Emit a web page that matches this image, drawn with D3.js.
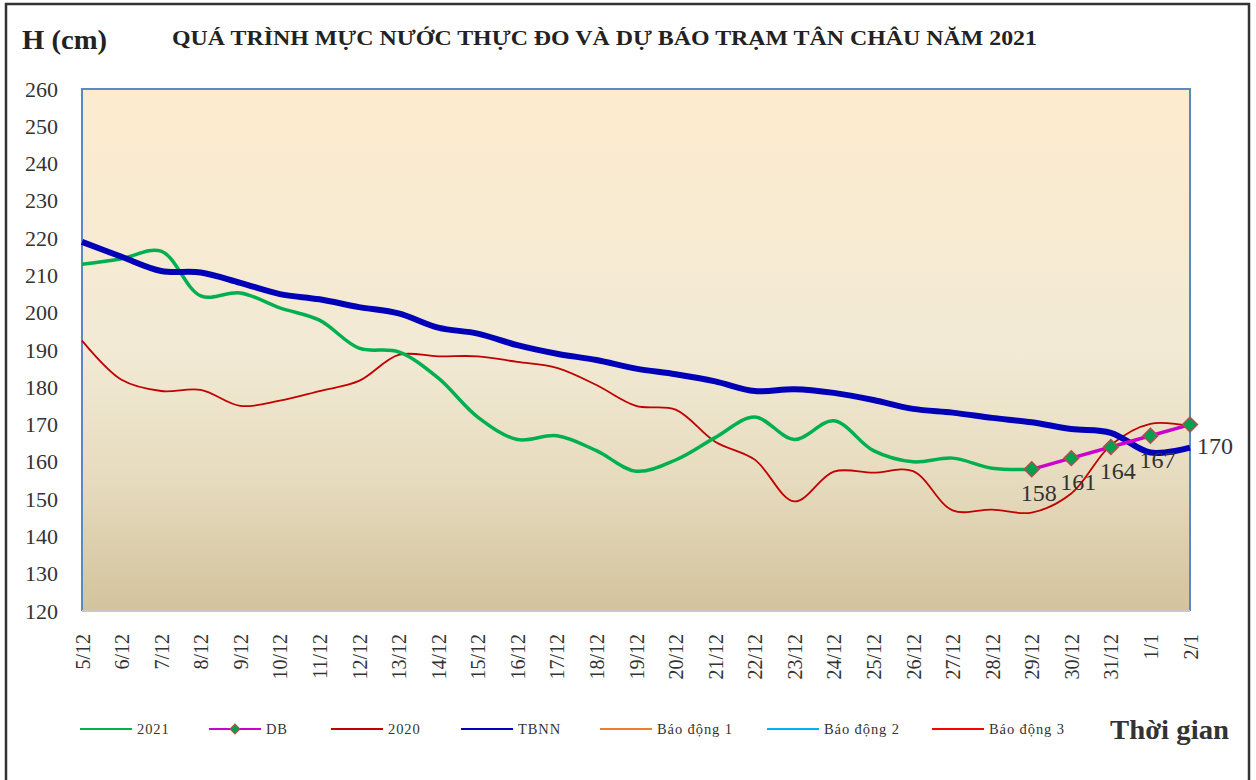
<!DOCTYPE html>
<html>
<head>
<meta charset="utf-8">
<script src="https://cdn.jsdelivr.net/npm/d3@7"></script>
<style>
  body { margin: 0; background: #fff; }
  svg text { font-family: "Liberation Serif", "Times New Roman", serif; }
</style>
</head>
<body>
<div id="chart"></div>
<script>
// ngay quan trac
var days = ["5/12","6/12","7/12","8/12","9/12","10/12","11/12","12/12","13/12","14/12",
  "15/12","16/12","17/12","18/12","19/12","20/12","21/12","22/12","23/12","24/12",
  "25/12","26/12","27/12","28/12","29/12","30/12","31/12","1/1","2/1"];

// muc nuoc thuc do 2021 (den 29/12)
var h2021 = [213, 214.5, 216.5, 204.5, 205.3, 201.3, 198, 190.5, 189.5, 182.5, 172, 166,
  167, 163, 157.5, 160.5, 166.5, 172, 166, 171, 163, 160, 161, 158.3, 158];
// cung ky 2020
var h2020 = [192.5, 182, 179, 179.3, 175, 176.4, 179, 181.7, 188.7, 188.3, 188.3, 186.8,
  185.2, 180.6, 175, 174, 165.4, 160.6, 149.4, 157.4, 157.1, 157.5, 147, 147.2, 146.4,
  151.5, 164.5, 170.2, 169.6];
// trung binh nhieu nam
var tbnn = [219, 215, 211.2, 210.8, 208, 205, 203.6, 201.5, 199.8, 196, 194.4, 191.3,
  189, 187.3, 185, 183.5, 181.6, 179, 179.5, 178.5, 176.6, 174.2, 173.2, 171.8, 170.6,
  168.8, 167.8, 162.5, 163.8];
// du bao
var dbDays = ["29/12","30/12","31/12","1/1","2/1"];
var dbValues = [158, 161, 164, 167, 170];

var yTicks = d3.range(120, 261, 10);

var legendItems = [
  {name: "2021", color: "#00B050"},
  {name: "DB", color: "#CC00CC", marker: true},
  {name: "2020", color: "#C00000"},
  {name: "TBNN", color: "#0000B8"},
  {name: "Báo động 1", color: "#ED7D31"},
  {name: "Báo động 2", color: "#00B0F0"},
  {name: "Báo động 3", color: "#FF0000"}
];

var W = 1256, H = 780;
var svg = d3.select("#chart").append("svg").attr("width", W).attr("height", H);

// khung ngoai
svg.append("rect").attr("x", 6).attr("y", 4).attr("width", 1243).attr("height", 790)
  .attr("fill", "none").attr("stroke", "#333").attr("stroke-width", 2.5);

var pLeft = 82, pRight = 1190, pTop = 89, pBottom = 611;
var x = d3.scalePoint().domain(days).range([pLeft, pRight]);
var y = d3.scaleLinear().domain([120, 260]).range([pBottom, pTop]);

var defs = svg.append("defs");
var grad = defs.append("linearGradient").attr("id", "bg").attr("x1", 0).attr("y1", 0).attr("x2", 0).attr("y2", 1);
grad.append("stop").attr("offset", "0%").attr("stop-color", "#FDEBCE");
grad.append("stop").attr("offset", "50%").attr("stop-color", "#F2EAD5");
grad.append("stop").attr("offset", "75%").attr("stop-color", "#E6DBBE");
grad.append("stop").attr("offset", "100%").attr("stop-color", "#D3C39D");

svg.append("rect").attr("x", pLeft).attr("y", pTop).attr("width", pRight - pLeft).attr("height", pBottom - pTop)
  .attr("fill", "url(#bg)");
svg.append("path")
  .attr("d", "M" + pLeft + "," + pBottom + "V" + pTop + "H" + pRight + "V" + pBottom)
  .attr("fill", "none").attr("stroke", "#5B87C5").attr("stroke-width", 2);
svg.append("line").attr("x1", pLeft).attr("x2", pRight).attr("y1", pBottom).attr("y2", pBottom)
  .attr("stroke", "#C8C8C8").attr("stroke-width", 2);

// truc Y
var yAxis = svg.append("g").attr("transform", "translate(58,0)")
  .call(d3.axisLeft(y).tickValues(yTicks).tickSize(0).tickPadding(0));
yAxis.select(".domain").remove();
yAxis.selectAll("text").attr("font-size", 22).attr("fill", "#333")
  .style("font-family", "'Liberation Serif', serif");

// truc X
var xAxis = svg.append("g").attr("transform", "translate(0," + pBottom + ")")
  .call(d3.axisBottom(x).tickSize(0));
xAxis.select(".domain").remove();
xAxis.selectAll("text")
  .attr("font-size", 20).attr("fill", "#333")
  .style("font-family", "'Liberation Serif', serif")
  .attr("text-anchor", "end")
  .attr("dy", null)
  .attr("transform", "translate(7,23) rotate(-90)")
  .attr("x", 0).attr("y", 0);

var line = d3.line()
  .defined(function (d) { return d != null; })
  .x(function (d, i) { return x(days[i]); })
  .y(function (d) { return y(d); })
  .curve(d3.curveCatmullRom.alpha(0.5));

var plot = svg.append("g");
plot.append("path").datum(h2020).attr("d", line)
  .attr("fill", "none").attr("stroke", "#C00000").attr("stroke-width", 1.8);
plot.append("path").datum(h2021).attr("d", line)
  .attr("fill", "none").attr("stroke", "#00B050").attr("stroke-width", 3.5);
plot.append("path").datum(tbnn).attr("d", line)
  .attr("fill", "none").attr("stroke", "#0000B8").attr("stroke-width", 6);

var dbLine = d3.line()
  .x(function (d, i) { return x(dbDays[i]); })
  .y(function (d) { return y(d); });
plot.append("path").datum(dbValues).attr("d", dbLine)
  .attr("fill", "none").attr("stroke", "#CC00CC").attr("stroke-width", 3.5);

var diamond = d3.symbol().type(d3.symbolDiamond2).size(140);
plot.selectAll(".mk").data(dbValues).join("path")
  .attr("transform", function (d, i) { return "translate(" + x(dbDays[i]) + "," + y(d) + ")"; })
  .attr("d", diamond)
  .attr("fill", "#00A050").attr("stroke", "#B0504A").attr("stroke-width", 1.5);

plot.selectAll(".lb").data(dbValues).join("text")
  .attr("x", function (d, i) { return x(dbDays[i]) + (i === dbValues.length - 1 ? 7 : 7); })
  .attr("y", function (d, i) { return y(d) + (i === dbValues.length - 1 ? 29 : 32); })
  .attr("text-anchor", function (d, i) { return i === dbValues.length - 1 ? "start" : "middle"; })
  .attr("font-size", 24).attr("fill", "#333")
  .text(function (d) { return d; });

// tieu de
svg.append("text").attr("x", 22).attr("y", 49)
  .attr("font-size", 27).attr("font-weight", "bold").attr("fill", "#222")
  .attr("textLength", 85).attr("lengthAdjust", "spacingAndGlyphs")
  .text("H (cm)");
svg.append("text").attr("x", 172).attr("y", 45)
  .attr("font-size", 20).attr("font-weight", "bold").attr("fill", "#222")
  .attr("textLength", 865).attr("lengthAdjust", "spacingAndGlyphs")
  .text("QUÁ TRÌNH MỰC NƯỚC THỰC ĐO VÀ DỰ BÁO TRẠM TÂN CHÂU NĂM 2021");
svg.append("text").attr("x", 1110).attr("y", 739)
  .attr("font-size", 28).attr("font-weight", "bold").attr("fill", "#333")
  .attr("textLength", 119).attr("lengthAdjust", "spacingAndGlyphs")
  .text("Thời gian");

// chu giai
var legendX = [80, 209, 331, 461, 600, 767, 932];
var lg = svg.append("g").selectAll("g").data(legendItems).join("g")
  .attr("transform", function (d, i) { return "translate(" + legendX[i] + ",729)"; });
lg.append("line").attr("x1", 0).attr("x2", 52).attr("y1", 0).attr("y2", 0)
  .attr("stroke", function (d) { return d.color; }).attr("stroke-width", 2);
lg.filter(function (d) { return d.marker; }).append("path")
  .attr("transform", "translate(26,0)")
  .attr("d", d3.symbol().type(d3.symbolDiamond2).size(60))
  .attr("fill", "#00A050").attr("stroke", "#B0504A").attr("stroke-width", 1.2);
lg.append("text").attr("x", 57).attr("y", 5)
  .attr("font-size", 14.5).attr("letter-spacing", 0.9).attr("fill", "#333")
  .text(function (d) { return d.name; });
</script>
</body>
</html>
